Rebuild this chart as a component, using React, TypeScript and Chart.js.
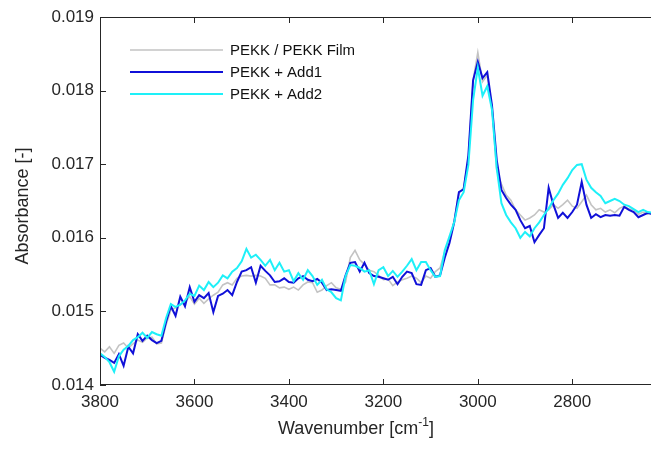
import React, { useEffect, useRef } from "react";
import { Chart, registerables } from "chart.js";

Chart.register(...registerables);

const wavenumbers = [
  3800, 3790, 3780, 3770, 3760, 3750, 3740, 3730, 3720, 3710,
  3700, 3690, 3680, 3670, 3660, 3650, 3640, 3630, 3620, 3610,
  3600, 3590, 3580, 3570, 3560, 3550, 3540, 3530, 3520, 3510,
  3500, 3490, 3480, 3470, 3460, 3450, 3440, 3430, 3420, 3410,
  3400, 3390, 3380, 3370, 3360, 3350, 3340, 3330, 3320, 3310,
  3300, 3290, 3280, 3270, 3260, 3250, 3240, 3230, 3220, 3210,
  3200, 3190, 3180, 3170, 3160, 3150, 3140, 3130, 3120, 3110,
  3100, 3090, 3080, 3070, 3060, 3050, 3040, 3030, 3020, 3010,
  3000, 2990, 2980, 2970, 2960, 2950, 2940, 2930, 2920, 2910,
  2900, 2890, 2880, 2870, 2860, 2850, 2840, 2830, 2820, 2810,
  2800, 2790, 2780, 2770, 2760, 2750, 2740, 2730, 2720, 2710,
  2700, 2690, 2680, 2670, 2660, 2650, 2640, 2630,
];

const pekkFilm = [
  0.01450, 0.01445, 0.01452, 0.01443, 0.01454, 0.01457, 0.01450, 0.01456, 0.01461, 0.01458,
  0.01464, 0.01465, 0.01456, 0.01457, 0.01482, 0.01502, 0.01505, 0.01509, 0.01513, 0.01520,
  0.01510, 0.01518, 0.01511, 0.01517, 0.01522, 0.01526, 0.01536, 0.01539, 0.01536, 0.01545,
  0.01548, 0.01549, 0.01548, 0.01549, 0.01548, 0.01545, 0.01536, 0.01536, 0.01532, 0.01533,
  0.01530, 0.01533, 0.01529, 0.01536, 0.01540, 0.01539, 0.01526, 0.01529, 0.01535, 0.01539,
  0.01532, 0.01530, 0.01540, 0.01573, 0.01583, 0.01570, 0.01564, 0.01556, 0.01554, 0.01549,
  0.01543, 0.01544, 0.01535, 0.01540, 0.01543, 0.01545, 0.01548, 0.01545, 0.01539, 0.01548,
  0.01545, 0.01554, 0.01559, 0.01581, 0.01597, 0.01624, 0.01661, 0.01668, 0.01708, 0.01814,
  0.01852, 0.01812, 0.01821, 0.01776, 0.01692, 0.01673, 0.01658, 0.01651, 0.01638, 0.01631,
  0.01624, 0.01627, 0.01631, 0.01638, 0.01635, 0.01638, 0.01645, 0.01640, 0.01645, 0.01651,
  0.01643, 0.01640, 0.01649, 0.01658, 0.01645, 0.01638, 0.01640, 0.01635, 0.01638, 0.01634,
  0.01640, 0.01643, 0.01639, 0.01638, 0.01632, 0.01635, 0.01632, 0.01635,
];

const pekkAdd1 = [
  0.01441, 0.01437, 0.01434, 0.01430, 0.01442, 0.01426, 0.01452, 0.01443, 0.01469, 0.01460,
  0.01467, 0.01461, 0.01457, 0.01460, 0.01486, 0.01507, 0.01494, 0.01520, 0.01507, 0.01533,
  0.01513, 0.01522, 0.01518, 0.01525, 0.01499, 0.01521, 0.01524, 0.01529, 0.01522, 0.01540,
  0.01554, 0.01556, 0.01560, 0.01539, 0.01562, 0.01555, 0.01549, 0.01540, 0.01541, 0.01545,
  0.01540, 0.01539, 0.01545, 0.01548, 0.01543, 0.01541, 0.01544, 0.01539, 0.01529, 0.01530,
  0.01529, 0.01528, 0.01549, 0.01566, 0.01567, 0.01554, 0.01566, 0.01552, 0.01548, 0.01547,
  0.01545, 0.01543, 0.01547, 0.01537, 0.01547, 0.01554, 0.01552, 0.01537, 0.01536, 0.01556,
  0.01559, 0.01547, 0.01549, 0.01573, 0.01593, 0.01621, 0.01662, 0.01666, 0.01712, 0.01814,
  0.01839, 0.01817, 0.01825, 0.01780, 0.01706, 0.01665, 0.01654, 0.01645, 0.01638, 0.01624,
  0.01613, 0.01616, 0.01594, 0.01604, 0.01613, 0.01668, 0.01645, 0.01627, 0.01634, 0.01627,
  0.01635, 0.01645, 0.01676, 0.01645, 0.01627, 0.01632, 0.01628, 0.01631, 0.01630, 0.01631,
  0.01630, 0.01642, 0.01638, 0.01635, 0.01628, 0.01631, 0.01634, 0.01632,
];

const pekkAdd2 = [
  0.01443, 0.01438, 0.01431, 0.01418, 0.01439, 0.01448, 0.01453, 0.01461, 0.01465, 0.01471,
  0.01464, 0.01472, 0.01469, 0.01467, 0.01491, 0.01510, 0.01506, 0.01509, 0.01515, 0.01524,
  0.01521, 0.01535, 0.01529, 0.01540, 0.01533, 0.01539, 0.01549, 0.01545, 0.01554, 0.01559,
  0.01568, 0.01585, 0.01573, 0.01577, 0.01570, 0.01562, 0.01570, 0.01556, 0.01566, 0.01554,
  0.01556, 0.01541, 0.01552, 0.01543, 0.01556, 0.01548, 0.01536, 0.01543, 0.01530, 0.01526,
  0.01518, 0.01515, 0.01548, 0.01563, 0.01562, 0.01559, 0.01554, 0.01556, 0.01537, 0.01556,
  0.01560, 0.01548, 0.01555, 0.01547, 0.01554, 0.01562, 0.01571, 0.01556, 0.01567, 0.01567,
  0.01556, 0.01547, 0.01548, 0.01583, 0.01602, 0.01621, 0.01651, 0.01662, 0.01699, 0.01787,
  0.01831, 0.01793, 0.01806, 0.01774, 0.01695, 0.01647, 0.01631, 0.01621, 0.01613, 0.01600,
  0.01608, 0.01602, 0.01613, 0.01621, 0.01631, 0.01640, 0.01651, 0.01660, 0.01672, 0.01681,
  0.01692, 0.01699, 0.01700, 0.01679, 0.01668, 0.01662, 0.01657, 0.01647, 0.01650, 0.01653,
  0.01650, 0.01645, 0.01643, 0.01639, 0.01635, 0.01638, 0.01635, 0.01634,
];

const seriesNames = ["PEKK / PEKK Film", "PEKK + Add1", "PEKK + Add2"];
const seriesColors = ["#c3c3c3", "#1010d8", "#1ef0f8"];
const seriesWidths = [1.6, 2, 2];

const xTicks = [3800, 3600, 3400, 3200, 3000, 2800];
const yTicks = [0.014, 0.015, 0.016, 0.017, 0.018, 0.019];
const xMin = 2610;
const xMax = 3800;
const yMin = 0.014;
const yMax = 0.019;

const FONT = '"Liberation Sans", Arial, Helvetica, sans-serif';
const AXIS_COLOR = "#262626";

const matlabAxes = {
  id: "matlabAxes",
  afterDatasetsDraw(chart: any) {
    const { ctx, chartArea, scales } = chart;
    const { left, right, top, bottom } = chartArea;
    const x = scales.x;
    const y = scales.y;
    ctx.save();
    ctx.strokeStyle = AXIS_COLOR;
    ctx.lineWidth = 1;
    ctx.strokeRect(left + 0.5, top + 0.5, right - left - 1, bottom - top - 1);
    const tl = 6;
    ctx.beginPath();
    xTicks.forEach((v) => {
      const px = Math.round(x.getPixelForValue(v)) + 0.5;
      ctx.moveTo(px, bottom);
      ctx.lineTo(px, bottom - tl);
      ctx.moveTo(px, top);
      ctx.lineTo(px, top + tl);
    });
    yTicks.forEach((v) => {
      const py = Math.round(y.getPixelForValue(v)) + 0.5;
      ctx.moveTo(left, py);
      ctx.lineTo(left + tl, py);
      ctx.moveTo(right, py);
      ctx.lineTo(right - tl, py);
    });
    ctx.stroke();

    // tick labels
    ctx.fillStyle = AXIS_COLOR;
    ctx.font = `17px ${FONT}`;
    ctx.textAlign = "right";
    ctx.textBaseline = "middle";
    yTicks.forEach((v) => {
      ctx.fillText(v.toFixed(3), left - 6, y.getPixelForValue(v));
    });
    ctx.textAlign = "center";
    xTicks.forEach((v) => {
      ctx.fillText(String(v), x.getPixelForValue(v), bottom + 17);
    });

    // x title with superscript
    const base = "Wavenumber [cm";
    const sup = "-1";
    const end = "]";
    ctx.font = `18px ${FONT}`;
    const wBase = ctx.measureText(base).width;
    const wEnd = ctx.measureText(end).width;
    ctx.font = `12px ${FONT}`;
    const wSup = ctx.measureText(sup).width;
    const total = wBase + wSup + wEnd;
    let sx = 356 - total / 2;
    const by = 434;
    ctx.textAlign = "left";
    ctx.textBaseline = "alphabetic";
    ctx.font = `18px ${FONT}`;
    ctx.fillText(base, sx, by);
    sx += wBase;
    ctx.font = `12px ${FONT}`;
    ctx.fillText(sup, sx, by - 8);
    sx += wSup;
    ctx.font = `18px ${FONT}`;
    ctx.fillText(end, sx, by);

    // y title
    ctx.save();
    ctx.translate(23, 206);
    ctx.rotate(-Math.PI / 2);
    ctx.textAlign = "center";
    ctx.textBaseline = "middle";
    ctx.font = `18px ${FONT}`;
    ctx.fillText("Absorbance [-]", 0, 0);
    ctx.restore();

    // legend
    ctx.font = `15px ${FONT}`;
    ctx.textAlign = "left";
    ctx.textBaseline = "middle";
    seriesNames.forEach((name, i) => {
      const ly = 50 + i * 22;
      ctx.strokeStyle = seriesColors[i];
      ctx.lineWidth = seriesWidths[i];
      ctx.beginPath();
      ctx.moveTo(130, ly);
      ctx.lineTo(223, ly);
      ctx.stroke();
      ctx.fillStyle = "#111111";
      ctx.fillText(name, 230, ly + 1);
    });
    ctx.restore();
  },
};

export default function App() {
  const canvasRef = useRef<HTMLCanvasElement | null>(null);

  useEffect(() => {
    const canvas = canvasRef.current;
    if (!canvas) return;
    const seriesData = [pekkFilm, pekkAdd1, pekkAdd2];
    const datasets = [2, 1, 0].map((k) => ({
      label: seriesNames[k],
      data: wavenumbers.map((w, i) => ({ x: w, y: seriesData[k][i] })),
      borderColor: seriesColors[k],
      borderWidth: seriesWidths[k],
      pointRadius: 0,
      tension: 0,
      fill: false,
    }));
    const chart = new Chart(canvas, {
      type: "line",
      data: { datasets },
      options: {
        responsive: false,
        animation: false,
        events: [],
        layout: { padding: { left: 0, top: 17, right: 8, bottom: 0 } },
        plugins: {
          legend: { display: false },
          tooltip: { enabled: false },
          title: { display: false },
        },
        scales: {
          x: {
            type: "linear",
            reverse: true,
            min: xMin,
            max: xMax,
            ticks: { display: false },
            grid: { display: false },
            border: { display: false },
            afterFit: (s: any) => {
              s.height = 64;
            },
          },
          y: {
            type: "linear",
            min: yMin,
            max: yMax,
            ticks: { display: false },
            grid: { display: false },
            border: { display: false },
            afterFit: (s: any) => {
              s.width = 100;
            },
          },
        },
      },
      plugins: [matlabAxes],
    } as any);
    return () => chart.destroy();
  }, []);

  return (
    <div
      style={{
        position: "absolute",
        left: 0,
        top: 0,
        width: 651,
        height: 449,
        overflow: "hidden",
        background: "#ffffff",
      }}
    >
      <canvas ref={canvasRef} width={670} height={449} style={{ display: "block" }} />
    </div>
  );
}
